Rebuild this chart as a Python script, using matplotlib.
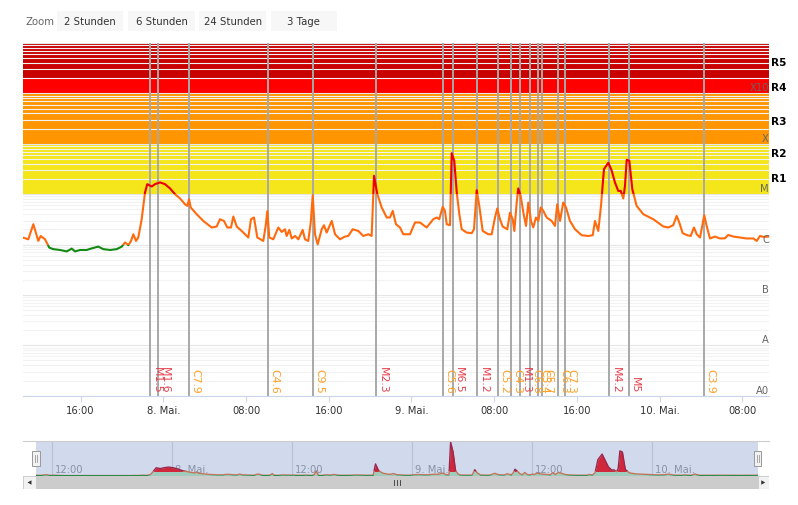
import numpy as np
import matplotlib
matplotlib.use('Agg')
import matplotlib.pyplot as plt
import matplotlib.transforms as mtransforms
from matplotlib.patches import Rectangle, Polygon
from matplotlib.ticker import LogLocator, NullFormatter

# GOES X-ray flux, time in hours since 8 May 00:00, flux in 1e-6 W/m^2
hours = [-13.60, -13.06, -12.57, -12.24, -12.09, -11.86, -11.44, -11.03, -10.64, -9.99,
         -9.34, -8.86, -8.54, -8.05, -7.41, -6.92, -6.29, -5.80, -5.15, -4.51,
         -4.02, -3.70, -3.38, -3.12, -2.90, -2.64, -2.42, -2.09, -1.77, -1.55,
         -1.12, -0.80, -0.32, 0.16, 0.65, 1.13, 1.62, 2.10, 2.32, 2.49,
         2.65, 3.23, 3.87, 4.68, 5.16, 5.48, 5.87, 6.19, 6.55, 6.77,
         7.10, 7.58, 8.22, 8.48, 8.77, 9.09, 9.67, 9.90, 10.06, 10.25,
         10.64, 11.12, 11.45, 11.77, 11.93, 12.19, 12.42, 12.74, 13.06, 13.48,
         13.70, 14.02, 14.26, 14.45, 14.67, 14.93, 15.32, 15.54, 15.80, 16.29,
         16.61, 17.09, 17.57, 17.89, 18.32, 18.86, 19.34, 19.83, 20.15, 20.38,
         20.70, 21.12, 21.61, 21.92, 22.19, 22.50, 22.89, 23.21, 23.86, 24.34,
         24.82, 25.47, 26.11, 26.44, 26.69, 27.02, 27.24, 27.41, 27.73, 27.89,
         28.14, 28.38, 28.63, 28.86, 29.34, 29.83, 30.05, 30.31, 30.56, 30.89,
         31.43, 31.76, 32.08, 32.30, 32.56, 32.82, 33.14, 33.27, 33.53, 33.79,
         33.95, 34.18, 34.33, 34.56, 34.82, 35.08, 35.30, 35.56, 35.78, 36.04,
         36.27, 36.50, 36.75, 37.08, 37.56, 37.88, 38.10, 38.37, 38.68, 38.95,
         39.33, 39.82, 40.46, 41.10, 41.53, 41.75, 42.07, 42.33, 42.62, 43.04,
         43.37, 43.68, 44.00, 44.24, 44.49, 44.65, 44.82, 45.07, 45.36, 45.78,
         46.42, 47.39, 48.36, 48.84, 49.32, 49.65, 49.90, 50.23, 50.68, 51.01,
         51.32, 51.59, 51.91, 52.32, 52.55, 52.87, 53.36, 53.84, 54.32, 54.64,
         55.13, 55.77, 56.42, 57.06, 57.39, 57.71, 58.03, 58.60]
flux = [1.38, 1.27, 2.53, 1.48, 1.18, 1.48, 1.27, 0.87, 0.81, 0.78,
        0.73, 0.83, 0.73, 0.78, 0.78, 0.84, 0.91, 0.81, 0.78, 0.81,
        0.91, 1.10, 0.97, 1.18, 1.60, 1.18, 1.38, 3.18, 10.8, 15.8,
        14.2, 15.8, 17.1, 15.8, 13.0, 10.0, 8.2, 6.3, 5.85, 7.9,
        5.44, 4.0, 2.94, 2.18, 2.28, 3.18, 2.94, 2.18, 2.18, 3.6,
        2.28, 1.86, 1.38, 3.18, 3.44, 1.38, 1.18, 2.34, 4.6, 1.38,
        1.27, 2.18, 1.78, 2.01, 1.48, 1.95, 1.32, 1.48, 1.27, 1.95,
        1.27, 1.18, 2.74, 9.5, 1.60, 1.01, 2.01, 2.42, 1.73, 2.94,
        1.60, 1.27, 1.44, 1.48, 2.01, 1.86, 1.48, 1.60, 1.48, 23.1,
        10.0, 5.44, 3.44, 3.44, 4.66, 2.53, 2.18, 1.60, 1.60, 2.74,
        2.74, 2.18, 3.18, 3.44, 3.18, 5.6, 4.66, 2.53, 2.42, 65.0,
        45.9, 10.8, 4.0, 2.01, 1.73, 1.68, 2.01, 12.0, 5.85, 1.86,
        1.60, 1.60, 3.44, 5.2, 3.18, 2.28, 2.08, 2.01, 4.3, 3.18,
        1.86, 6.84, 13.0, 9.25, 4.33, 2.34, 6.8, 2.94, 2.18, 3.44,
        2.94, 5.44, 4.66, 3.44, 2.94, 2.34, 6.3, 2.94, 6.84, 5.44,
        2.94, 2.01, 1.53, 1.48, 1.53, 2.94, 1.86, 5.85, 31.4, 42.0,
        29.1, 17.1, 11.6, 11.6, 8.2, 14.6, 48.1, 45.9, 12.6, 5.85,
        4.0, 3.18, 2.28, 2.18, 2.42, 3.7, 2.74, 1.68, 1.53, 1.48,
        2.18, 1.60, 1.38, 3.82, 2.34, 1.32, 1.44, 1.32, 1.33, 1.55,
        1.44, 1.38, 1.32, 1.32, 1.18, 1.48, 1.42, 1.44]

# flare events (hours since 8 May 00:00)
flare_hours = [-1.29, -0.51, 2.51, 10.10, 14.45, 20.57, 27.02, 27.99, 30.37, 32.34,
               33.60, 34.47, 35.43, 36.27, 36.62, 38.17, 38.82, 43.11, 45.01, 52.26]
flare_names = ['M1.5', 'M1.6', 'C7.9', 'C4.6', 'C9.5', 'M2.3', 'C5.6', 'M6.5', 'M1.2', 'C5.2',
               'C4.3', 'M1.3', 'C6.8', 'C5.4', 'C5.7', 'C6.3', 'C7.3', 'M4.2', 'M5', 'C3.9']

x_ticks = [-8, 0, 8, 16, 24, 32, 40, 48, 56]
x_labels = ['16:00', '8. Mai.', '08:00', '16:00', '9. Mai.', '08:00', '16:00', '10. Mai.', '08:00']
nav_ticks = [-12, 0, 12, 24, 36, 48]
nav_labels = ['12:00', '8. Mai.', '12:00', '9. Mai.', '12:00', '10. Mai.']

class_levels = [1e-3, 1e-4, 1e-5, 1e-6, 1e-7, 1e-8, 1e-9]
class_names = ['X10', 'X', 'M', 'C', 'B', 'A', 'A0']
r_levels = [4.2e-3, 1.34e-3, 2.8e-4, 6.5e-5, 2.1e-5]
r_names = ['R5', 'R4', 'R3', 'R2', 'R1']

band_edges = [1e-5, 1e-4, 1e-3, 2e-3, 1e-2]
band_colors = ['#f4e61a', '#ff9500', '#ff0000', '#c80000']

zone_edges = [1e-12, 1e-6, 1e-5, 1.0]
zone_colors = ['#138a13', '#ff6a0d', '#ee0000']

buttons = ['2 Stunden', '6 Stunden', '24 Stunden', '3 Tage']
t_start, t_end = -13.57, 58.58

t = np.array(hours)
y = np.array(flux) * 1e-6

W, H = 798, 506
fig = plt.figure(figsize=(W / 100, H / 100), dpi=100)


def box(x0, y0, x1, y1):
    return [x0 / W, 1 - y1 / H, (x1 - x0) / W, (y1 - y0) / H]


# ---------- main chart ----------
ax = fig.add_axes(box(23, 44, 769, 396.7))
ax.set_yscale('log')
ax.set_ylim(1e-9, 1e-2)
ax.set_xlim(t_start, t_end)

for lo, hi, c in zip(band_edges[:-1], band_edges[1:], band_colors):
    ax.axhspan(lo, hi, color=c, lw=0, zorder=0.5)

ax.yaxis.set_major_locator(LogLocator(base=10, numticks=20))
ax.yaxis.set_minor_locator(LogLocator(base=10, subs=range(2, 10), numticks=20))
ax.yaxis.set_minor_formatter(NullFormatter())
ax.grid(which='major', axis='y', color='#e6e6e6', lw=0.8)
ax.grid(which='minor', axis='y', color='#f2f2f2', lw=0.8)
ax.tick_params(axis='y', which='both', left=False, labelleft=False)

for s in ['top', 'left', 'right']:
    ax.spines[s].set_visible(False)
ax.spines['bottom'].set_color('#ccd6eb')
ax.spines['bottom'].set_linewidth(0.8)
ax.set_xticks(x_ticks, x_labels)
ax.tick_params(axis='x', colors='#ccd6eb', labelcolor='#333333', length=4.5,
               width=0.8, labelsize=7.2, pad=2.5)

for ft in flare_hours:
    ax.axvline(ft, color='#a8a8a8', lw=1.4, zorder=2)

for lo, hi, c in zip(zone_edges[:-1], zone_edges[1:], zone_colors):
    ln, = ax.plot(t, y, color=c, lw=1.5, zorder=3, solid_joinstyle='round')
    ln.set_clip_path(Rectangle((t_start, lo), t_end - t_start, hi - lo,
                               transform=ax.transData))

lab_trans = mtransforms.offset_copy(ax.transData, fig=fig, x=1.5, y=0, units='dots')
for ft, name in zip(flare_hours, flare_names):
    col = '#e4404c' if name.startswith('M') else '#ffa024'
    ax.text(ft, 1.16e-9, name, rotation=-90, ha='left', va='bottom', fontsize=7.8,
            color=col, transform=lab_trans, zorder=4)

right_trans = mtransforms.blended_transform_factory(ax.transAxes, ax.transData)
cls_trans = mtransforms.offset_copy(right_trans, fig=fig, x=0, y=1, units='dots')
for lvl, name in zip(class_levels, class_names):
    ax.text(1.0, lvl, name, ha='right', va='bottom', fontsize=7.2, color='#666666',
            transform=cls_trans, zorder=4)
r_trans = mtransforms.offset_copy(right_trans, fig=fig, x=2, y=0, units='dots')
for lvl, name in zip(r_levels, r_names):
    ax.text(1.0, lvl, name, ha='left', va='center', fontsize=7.6, fontweight='bold',
            color='#000000', transform=r_trans)

# ---------- navigator ----------
nav = fig.add_axes(box(23, 441.5, 769, 477))
nav.set_xlim(-14.87, 59.73)
nav.set_ylim(0, 6.8e-5)
nav.axis('off')
for nt, nl in zip(nav_ticks, nav_labels):
    nav.axvline(nt, color='#dcdcdc', lw=0.8, zorder=1)
nav_lab = mtransforms.offset_copy(
    mtransforms.blended_transform_factory(nav.transData, nav.transAxes),
    fig=fig, x=3, y=0, units='dots')
for nt, nl in zip(nav_ticks, nav_labels):
    nav.text(nt, 0.2, nl, ha='left', va='center', fontsize=7.2, color='#999999',
             transform=nav_lab, zorder=1.5)

fills = [(0, 1e-5, '#b9ecbc'), (1e-5, 1.0, '#ff0000')]
for lo, hi, c in fills:
    pc = nav.fill_between(t, 0, y, color=c, lw=0, zorder=2)
    pc.set_clip_path(Rectangle((t[0], lo), t[-1] - t[0], hi - lo, transform=nav.transData))
for lo, hi, c in zip(zone_edges[:-1], zone_edges[1:], ['#138a13', '#e8702a', '#b0001e']):
    ln, = nav.plot(t, y, color=c, lw=1.0, zorder=3)
    ln.set_clip_path(Rectangle((t[0], max(lo, -1)), t[-1] - t[0], hi - lo,
                               transform=nav.transData))
nav.axvspan(t_start, t_end, color=(102 / 255, 133 / 255, 194 / 255), alpha=0.3, lw=0, zorder=5)
nav.plot([0, 1], [1, 1], transform=nav.transAxes, color='#cccccc', lw=0.8,
         clip_on=False, zorder=6)
hand_trans = mtransforms.blended_transform_factory(nav.transData, nav.transAxes)
for hx in [t_start, t_end]:
    nav.add_patch(Rectangle((hx - 0.36, 0.29), 0.72, 0.42, transform=hand_trans,
                            fc='#f2f2f2', ec='#999999', lw=0.7, zorder=7))
    for dx in [-0.1, 0.1]:
        nav.plot([hx + dx, hx + dx], [0.4, 0.6], transform=hand_trans,
                 color='#999999', lw=0.6, zorder=8)

# ---------- scrollbar ----------
bar = fig.add_axes(box(23, 477, 769, 490))
bar.set_xlim(-14.87, 59.73)
bar.set_ylim(0, 1)
bar.axis('off')
bar.add_patch(Rectangle((t_start, 0), t_end - t_start, 1, fc='#cccccc', lw=0))
bar.add_patch(Rectangle((-14.87, 0), t_start + 14.87, 1, fc='#f2f2f2', ec='#cccccc', lw=0.7))
bar.add_patch(Rectangle((t_end, 0), 59.73 - t_end, 1, fc='#f2f2f2', ec='#cccccc', lw=0.7))
lc = (-14.87 + t_start) / 2
rc = (59.73 + t_end) / 2
bar.add_patch(Polygon([[lc + 0.2, 0.33], [lc + 0.2, 0.67], [lc - 0.2, 0.5]], fc='#333333', lw=0))
bar.add_patch(Polygon([[rc - 0.2, 0.33], [rc - 0.2, 0.67], [rc + 0.2, 0.5]], fc='#333333', lw=0))
mid = (t_start + t_end) / 2
for dx in [-0.3, 0.0, 0.3]:
    bar.plot([mid + dx, mid + dx], [0.3, 0.7], color='#333333', lw=0.6)

# ---------- zoom buttons ----------
fig.text(25 / W, 1 - 22 / H, 'Zoom', fontsize=7.3, color='#666666', va='center', ha='left')
btn_x = [(57.3, 123.3), (128.3, 195), (199.3, 266), (270.7, 336.7)]
for (x0, x1), name in zip(btn_x, buttons):
    b = box(x0, 12.3, x1, 31.7)
    fig.add_artist(Rectangle((b[0], b[1]), b[2], b[3], transform=fig.transFigure,
                             fc='#f7f7f7', ec='none'))
    fig.text((x0 + x1) / 2 / W, 1 - 22 / H, name, fontsize=7.3, color='#333333',
             ha='center', va='center')

fig.savefig('out.png', dpi=100)
